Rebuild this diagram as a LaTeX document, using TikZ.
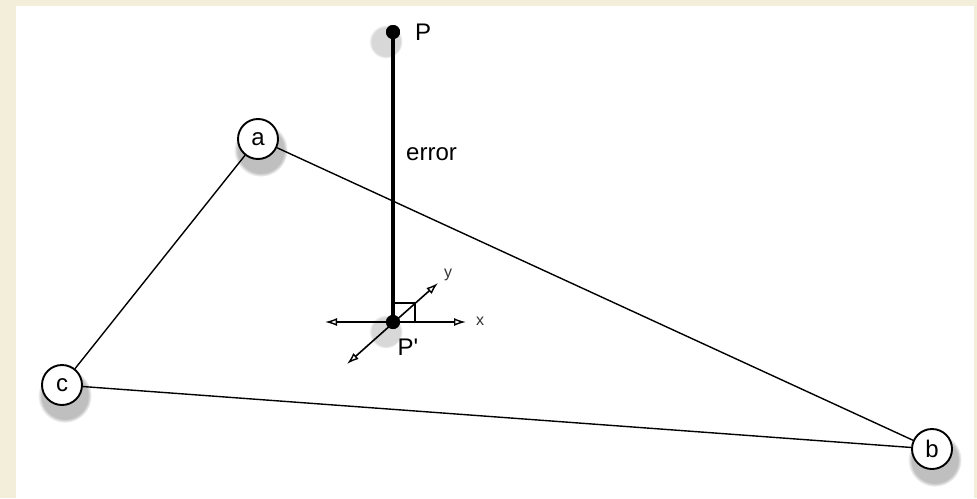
\documentclass[tikz,border=0pt]{standalone}
\usepackage{fontspec}
\setmainfont{Liberation Sans}
\usetikzlibrary{arrows.meta,shadows,fadings}
\definecolor{cream}{HTML}{F3EEDA}
\begin{document}
\begin{tikzpicture}[x=1pt,y=-1pt,
  vtx/.style={circle, draw, line width=1.9pt, fill=white, minimum size=40pt, inner sep=0pt,
    font=\fontsize{24}{26}\selectfont,
    circular drop shadow={shadow xshift=2pt, shadow yshift=-8pt, shadow scale=1.35, opacity=0.5}},
  dotnode/.style={circle, fill=black, minimum size=14pt, inner sep=0pt},
  dotshadow/.style={circle, fill=black, minimum size=14pt, inner sep=0pt,
    circular drop shadow={shadow xshift=-3pt, shadow yshift=-4pt, shadow scale=2.4, opacity=0.3}},
  lbl/.style={font=\fontsize{24}{26}\selectfont, inner sep=0pt},
  axlbl/.style={font=\fontsize{16}{18}\selectfont, inner sep=0pt, text=black!80},
  edge/.style={line width=1.4pt},
  axis/.style={line width=1.6pt, {Latex[open,length=12pt,width=8pt,line width=1.4pt]}-{Latex[open,length=12pt,width=8pt,line width=1.4pt]}}
]
\fill[cream] (0,0) rectangle (977,498);
\fill[white] (16,6) rectangle (974,498);
\useasboundingbox (0,0) rectangle (977,498);

% dot shadows
\node[dotshadow] (Ps) at (393,32) {};
\node[dotshadow] (Pps) at (393,322) {};

% thick error line
\draw[line width=3.8pt] (Ps.center) -- (Pps.center);

% axes
\coordinate (xl) at (325,322);
\coordinate (xr) at (466,322);
\coordinate (yl) at (347,364);
\coordinate (yr) at (438,283);
\draw[axis] (xl) -- (xr);
\draw[axis] (yl) -- (yr);
\coordinate (rq) at (415,303);
\draw[line width=1.6pt] (393,303) -- (rq) -- (415,322);

% triangle vertices
\node[vtx] (a) at (258,139) {a};
\node[vtx] (b) at (932,449) {b};
\node[vtx] (c) at (62,385) {c};
\draw[edge] (a) -- (b);
\draw[edge] (a) -- (c);
\draw[edge] (c) -- (b);

\node[dotnode] (P) at (Ps) {};
\node[dotnode] (Pp) at (Pps) {};

\node[lbl, anchor=west] (Plbl) at (415,32) {P};
\node[lbl, anchor=west] (err) at (406,154) {error};
\node[lbl] (Pplbl) at (408,347) {P\textquotesingle};
\node[axlbl, anchor=west] (xlbl) at (476,321) {x};
\node[axlbl, anchor=west] (ylbl) at (444,275) {y};
\end{tikzpicture}
\end{document}
